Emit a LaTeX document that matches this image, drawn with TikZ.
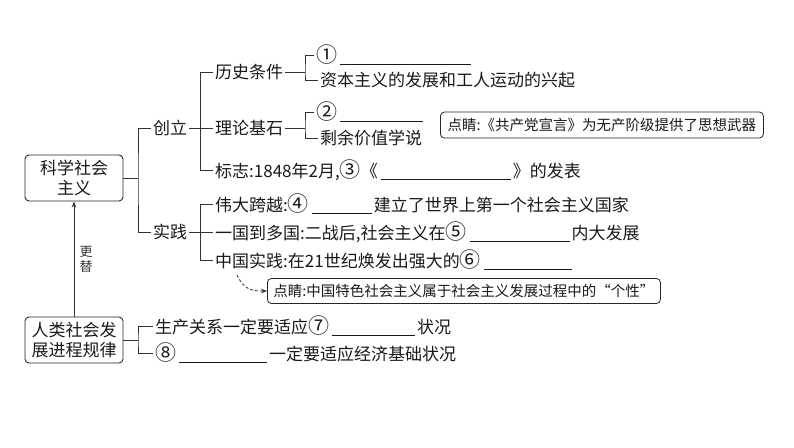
\documentclass[tikz,border=0pt]{standalone}
\usepackage{fontspec}
\setmainfont{Noto Sans CJK SC}
\usetikzlibrary{arrows.meta}
\newcommand\cn[1]{{\fontsize{21}{21}\selectfont #1}}
\newcommand\blank[1]{\hspace{3pt}\rule[-2.5pt]{#1pt}{0.8pt}\hspace{2pt}}
\begin{document}
\begin{tikzpicture}[x=1pt,y=-1pt,
  txt/.style={anchor=west,inner sep=2pt,font=\fontsize{17}{18}\selectfont,text=black!90},
  box/.style={draw=black!85,rounded corners=4pt,line width=0.9pt,minimum width=98pt,minimum height=46pt,align=center,font=\fontsize{17}{20}\selectfont,inner sep=1pt,text=black!90},
  link/.style={line width=0.8pt,draw=black!80},
  note/.style={draw=black!85,rounded corners=4pt,line width=0.8pt,anchor=west,font=\fontsize{14.5}{15}\selectfont,inner sep=2pt,text=black!90}
]
\useasboundingbox (0,0) rectangle (794,447);

% main boxes
\node[box] (kx) at (74,178) {科学社会\\主义};
\node[box] (rl) at (74,340) {人类社会发\\展进程规律};

% first level
\node[txt] (cl) at (151,128) {创立};
\node[txt] (sj) at (151,232) {实践};
\coordinate (k1) at (138,178);
\draw[link] (kx.east) -- (k1);
\draw[link] (cl.west) -| (k1) |- (sj.west);

% 创立 branch
\node[txt] (ls) at (213,72) {历史条件};
\node[txt] (ll) at (213,128) {理论基石};
\node[txt] (bz) at (213,170) {标志:1848年2月,\cn{③}《\blank{130}》的发表};
\draw[link] (cl.east) -- (ll.west);
\draw[link] (ls.west) -- ++(-13,0) |- (bz.west);

% 历史条件 sub
\coordinate (l1) at (305,72);
\node[txt] (c1) at (314,55) {\cn{①}\blank{131}};
\node[txt] (c2) at (318,80) {资本主义的发展和工人运动的兴起};
\draw[link] (ls.east) -- (l1);
\draw[link] (c1.west) -| (l1) |- (c2.west);

% 理论基石 sub
\coordinate (l2) at (305,128);
\node[txt] (d1) at (314,112) {\cn{②}\blank{83}};
\node[txt] (d2) at (318,138) {剩余价值学说};
\draw[link] (ll.east) -- (l2);
\draw[link] (d1.west) -| (l2) |- (d2.west);

% note 1
\node[note,minimum width=323pt,minimum height=26pt] (n1) at (440,125) {点睛:《共产党宣言》为无产阶级提供了思想武器};

% 实践 branch
\node[txt] (w1) at (213,204) {伟大跨越:\cn{④}\blank{60}建立了世界上第一个社会主义国家};
\node[txt] (w2) at (213,232) {一国到多国:二战后,社会主义在\cn{⑤}\blank{100}内大发展};
\node[txt] (w3) at (213,260) {中国实践:在21世纪焕发出强大的\cn{⑥}\blank{88}};
\draw[link] (sj.east) -- (w2.west);
\draw[link] (w1.west) -- ++(-13,0) |- (w3.west);

% note 2
\node[note,minimum width=393pt,minimum height=25pt] (n2) at (267,291) {点睛:中国特色社会主义属于社会主义发展过程中的“个性”};
\coordinate (ds) at (237,275);
\draw[link,densely dashed,-{Stealth[length=6pt,width=4.5pt]}] (ds) .. controls (244,290) and (252,291) .. (n2.west);

% arrow 更替
\draw[link,-{Stealth[length=6pt,width=4.5pt]}] (rl.north) -- (kx.south) node[midway,right,xshift=2pt,align=center,font=\fontsize{13}{15}\selectfont,text=black!80] {更\\替};

% bottom branch
\node[txt] (p1) at (153,326) {生产关系一定要适应\cn{⑦}\blank{83}状况};
\node[txt] (p2) at (153,353) {\cn{⑧}\blank{88}一定要适应经济基础状况};
\coordinate (r1) at (138,340);
\draw[link] (rl.east) -- (r1);
\draw[link] (p1.west) -| (r1) |- (p2.west);
\end{tikzpicture}
\end{document}
